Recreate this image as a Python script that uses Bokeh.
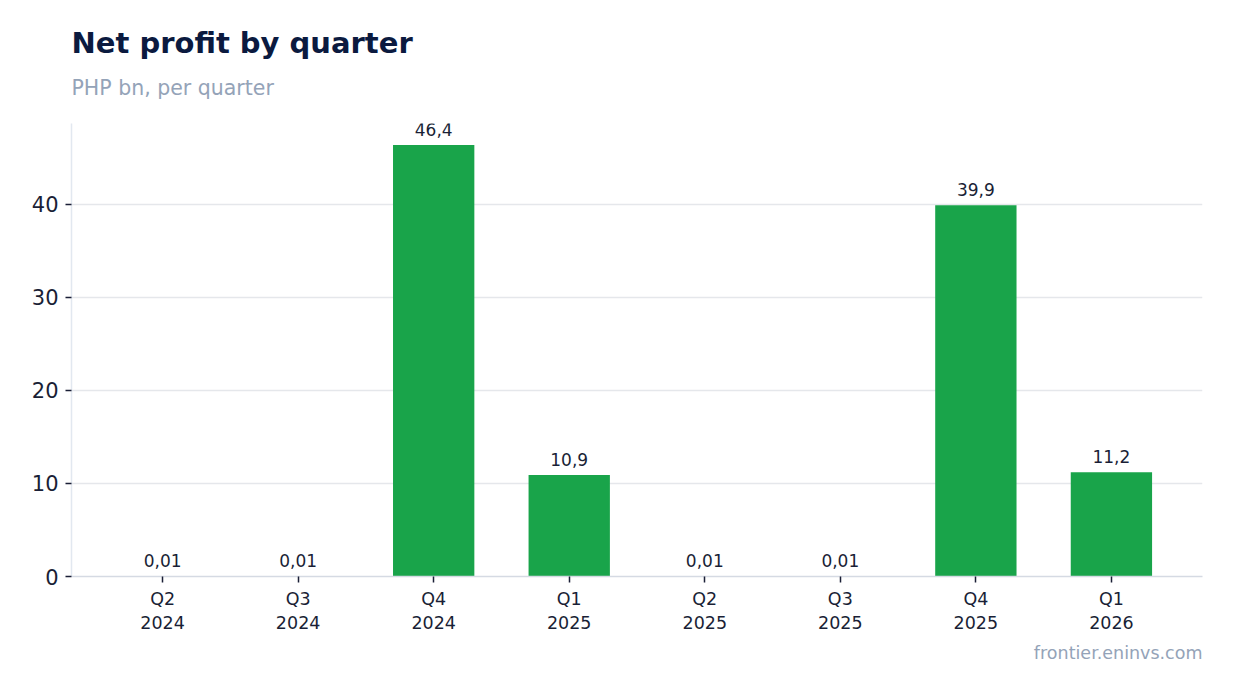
from bokeh.plotting import figure
from bokeh.models import ColumnDataSource, Title, FactorRange, Range1d, FixedTicker
from bokeh.embed import file_html
from bokeh.resources import INLINE

quarters = ["Q2\n2024", "Q3\n2024", "Q4\n2024", "Q1\n2025", "Q2\n2025", "Q3\n2025", "Q4\n2025", "Q1\n2026"]
profit = [0.01, 0.01, 46.4, 10.9, 0.01, 0.01, 39.9, 11.2]
y_ticks = [0, 10, 20, 30, 40]

def fmt(v):
    s = f"{v:.2f}" if v < 0.1 else f"{v:.1f}"
    return s.replace(".", ",")

labels = [fmt(v) for v in profit]
src = ColumnDataSource(dict(q=quarters, v=profit, lab=labels))

FONT = "DejaVu Sans"

p = figure(
    x_range=FactorRange(*quarters, range_padding=0.172, range_padding_units="absolute"),
    y_range=Range1d(0, 48.7),
    frame_width=1131, frame_height=453,
    output_backend="svg", toolbar_location=None,
    min_border_left=71, min_border_right=15, min_border_top=123, min_border_bottom=10,
    background_fill_color="white", border_fill_color="white",
)
p.outline_line_color = None

p.vbar(x="q", top="v", width=0.6, source=src, color="#19a44a", line_color=None)
p.text(x="q", y="v", text="lab", source=src, text_align="center", text_baseline="bottom",
       y_offset=-9, text_font_size="17px", text_color="#1a1f36", text_font={"value": FONT})

# axes
p.yaxis.ticker = FixedTicker(ticks=y_ticks)
p.yaxis.major_label_text_font_size = "21px"
p.yaxis.major_label_text_color = "#1a1f36"
p.yaxis.major_label_text_font = FONT
p.yaxis.axis_line_color = "#e2e8f0"
p.yaxis.axis_line_width = 1.5
p.yaxis.major_tick_line_color = "#1a1f36"
p.yaxis.major_tick_line_width = 1.5
p.yaxis.major_tick_out = 6
p.yaxis.major_tick_in = 0
p.yaxis.minor_tick_line_color = None
p.yaxis.major_label_standoff = 7

p.xaxis.major_label_text_font_size = "17.5px"
p.xaxis.major_label_text_color = "#1a1f36"
p.xaxis.major_label_text_font = FONT
p.xaxis.axis_line_color = "#d5dae3"
p.xaxis.axis_line_width = 1.5
p.xaxis.major_tick_line_color = "#1a1f36"
p.xaxis.major_tick_line_width = 1.5
p.xaxis.major_tick_out = 6
p.xaxis.major_tick_in = 0
p.xaxis.major_label_standoff = 6

p.xgrid.grid_line_color = None
p.ygrid.grid_line_color = "#e5e7eb"
p.ygrid.grid_line_width = 1.5

# titles (first added is closest to the frame)
p.add_layout(Title(text="PHP bn, per quarter", text_font_size="20.5px", text_font_style="normal",
                   text_color="#94a3b8", text_font=FONT, align="left", standoff=48), "above")
p.add_layout(Title(text="Net profit by quarter", text_font_size="29px", text_font_style="bold",
                   text_color="#0b1a3f", text_font=FONT, align="left", standoff=-20), "above")
p.add_layout(Title(text="frontier.eninvs.com", text_font_size="17.5px", text_font_style="normal",
                   text_color="#94a3b8", text_font=FONT, align="right", standoff=10), "below")

open("out.html", "w").write(file_html(p, INLINE))
